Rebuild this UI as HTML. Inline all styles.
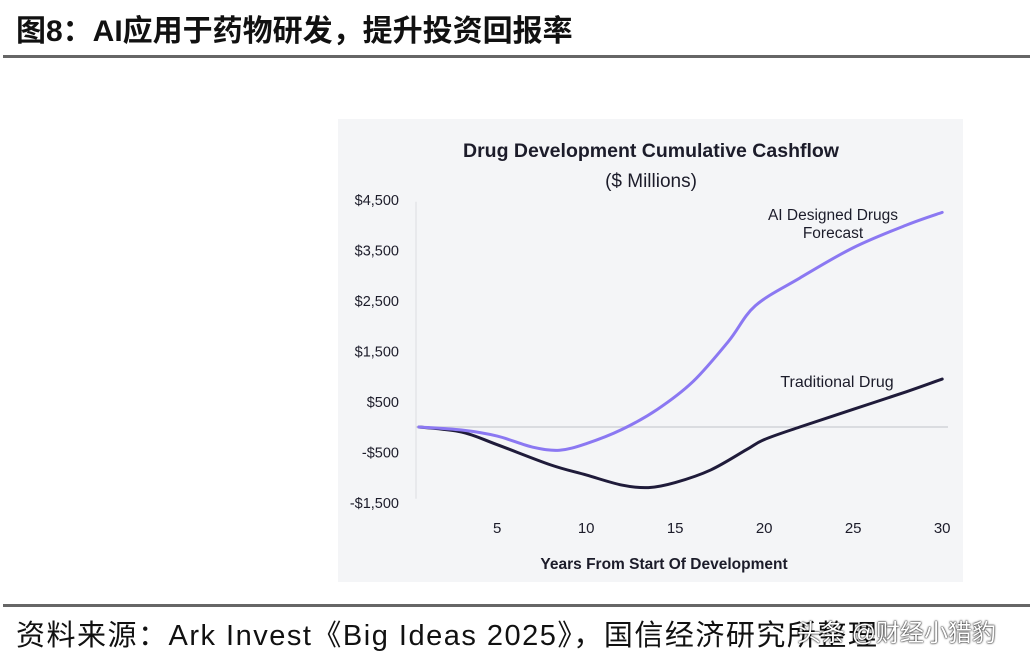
<!DOCTYPE html>
<html><head><meta charset="utf-8">
<style>
body{margin:0;width:1030px;height:659px;background:#fff;position:relative;overflow:hidden;font-family:"Liberation Sans","Noto Sans CJK SC",sans-serif;}
.t{position:absolute;white-space:nowrap;}
</style></head><body>
<div class="t" style="left:16px;top:6px;font-size:30px;font-weight:bold;color:#111;">图8：AI应用于药物研发，提升投资回报率</div>
<div style="position:absolute;left:3px;top:55px;width:1027px;height:3px;background:#666;"></div>
<div style="position:absolute;left:338px;top:119px;width:625px;height:463px;background:#f4f5f7;"></div>
<svg width="1030" height="659" style="position:absolute;left:0;top:0">
<text x="651" y="157" text-anchor="middle" font-size="19.5" font-weight="bold" fill="#1c1c2a" font-family="Liberation Sans,sans-serif">Drug Development Cumulative Cashflow</text>
<text x="651" y="187" text-anchor="middle" font-size="19" fill="#1c1c2a" font-family="Liberation Sans,sans-serif">($ Millions)</text>
<g id="ax"></g>
<text x="664" y="569" text-anchor="middle" font-size="15.5" font-weight="bold" fill="#1c1c2a" font-family="Liberation Sans,sans-serif">Years From Start Of Development</text>
<text x="833" y="220" text-anchor="middle" font-size="15.5" fill="#1c1c2a" font-family="Liberation Sans,sans-serif">AI Designed Drugs</text>
<text x="833" y="238" text-anchor="middle" font-size="15.5" fill="#1c1c2a" font-family="Liberation Sans,sans-serif">Forecast</text>
<text x="837" y="387" text-anchor="middle" font-size="16" fill="#1c1c2a" font-family="Liberation Sans,sans-serif">Traditional Drug</text>
</svg>
<div style="position:absolute;left:3px;top:604px;width:1027px;height:3px;background:#666;"></div>
<div class="t" style="left:16px;top:612px;font-size:29px;letter-spacing:1.5px;color:#111;">资料来源：Ark Invest《Big Ideas 2025》，国信经济研究所整理</div>
<div class="t" style="left:797px;top:613px;font-size:24px;color:#fff;text-shadow:0 0 2px #000,0 0 1px #000;">头条 @财经小猎豹</div>
<script>
const yTicks=[4500,3500,2500,1500,500,-500,-1500];
const yTickLabels=["$4,500","$3,500","$2,500","$1,500","$500","-$500","-$1,500"];
const xTicks=[5,10,15,20,25,30];
const aiYears=[0.6,3,5,7,8.5,10,12,14,16,18,19.5,22,25,28,30];
const aiValues=[0,-60,-180,-400,-460,-330,-50,350,900,1700,2400,2950,3550,4000,4250];
const tradYears=[0.6,3,5,8,10,12,13.5,15,17,19,20,22,25,28,30];
const tradValues=[0,-100,-350,-750,-950,-1150,-1200,-1100,-850,-450,-250,0,350,700,950];
const NS="http://www.w3.org/2000/svg";
const X=v=>426+(v-1)*17.8;
const Y=v=>427-v*0.0505;
const g=document.getElementById('ax');
function mk(t,a){const e=document.createElementNS(NS,t);for(const k in a)e.setAttribute(k,a[k]);g.appendChild(e);return e;}
let e=mk('line',{x1:416,x2:416,y1:Y(4500)+2,y2:Y(-1500)-4,stroke:'#dcdde2','stroke-width':1});


e=mk('line',{x1:416,x2:948,y1:Y(0),y2:Y(0),stroke:'#d2d3d8','stroke-width':1.5});


yTicks.forEach((v,i)=>{const t=mk('text',{x:399,y:Y(v)+5,'text-anchor':'end','font-size':14.5,fill:'#1c1c2a','font-family':'Liberation Sans,sans-serif'});t.textContent=yTickLabels[i];

});
xTicks.forEach(v=>{const t=mk('text',{x:X(v),y:533,'text-anchor':'middle','font-size':15,fill:'#1c1c2a','font-family':'Liberation Sans,sans-serif'});t.textContent=v;

});
function path(xs,ys){let d='';const p=xs.map((x,i)=>[X(x),Y(ys[i])]);
d='M'+p[0][0]+','+p[0][1];
for(let i=0;i<p.length-1;i++){const p0=p[i-1]||p[i],p1=p[i],p2=p[i+1],p3=p[i+2]||p2;
d+=` C${p1[0]+(p2[0]-p0[0])/6},${p1[1]+(p2[1]-p0[1])/6} ${p2[0]-(p3[0]-p1[0])/6},${p2[1]-(p3[1]-p1[1])/6} ${p2[0]},${p2[1]}`;}
return d;}
e=mk('path',{d:path(tradYears,tradValues),fill:'none',stroke:'#1f1b3a','stroke-width':3,'stroke-linecap':'round'});


e=mk('path',{d:path(aiYears,aiValues),fill:'none',stroke:'#8b78f2','stroke-width':3,'stroke-linecap':'round'});


</script>
</body></html>
